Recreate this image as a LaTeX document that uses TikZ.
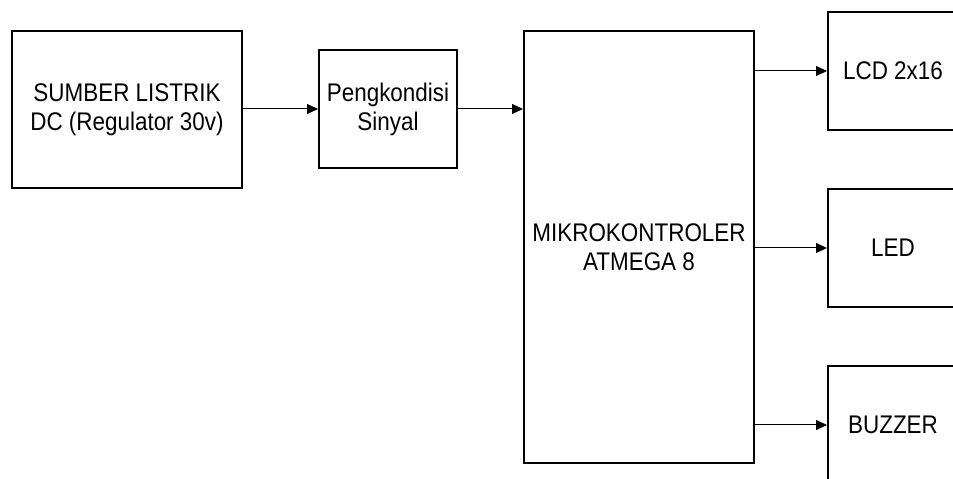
\documentclass[tikz,border=0pt]{standalone}
\usepackage{fontspec}
\newfontfamily\diagfont[FakeStretch=0.88]{Liberation Sans}
\usetikzlibrary{arrows.meta}
\begin{document}
\begin{tikzpicture}[x=1pt,y=1pt,
  blockbox/.style={draw, line width=2pt, inner sep=0pt, align=center,
    font=\diagfont\fontsize{25.5}{29}\selectfont},
  conn/.style={line width=1pt, -{Triangle[length=11pt,width=10pt]}}]
\useasboundingbox (0,0) rectangle (953,479);
\clip (0,0) rectangle (953,479);
\node[blockbox, minimum width=230pt, minimum height=157pt] (src) at (127,369.5) {SUMBER LISTRIK\\DC (Regulator 30v)};
\node[blockbox, minimum width=138pt, minimum height=118pt] (cond) at (388,370) {Pengkondisi\\Sinyal};
\node[blockbox, minimum width=230pt, minimum height=432pt] (mcu) at (639,232) {MIKROKONTROLER\\ATMEGA 8};
\node[blockbox, minimum width=130pt, minimum height=118pt] (lcd) at (893,408) {LCD 2x16};
\node[blockbox, minimum width=130pt, minimum height=118pt] (led) at (893,231) {LED};
\node[blockbox, minimum width=130pt, minimum height=118pt] (buz) at (893,54) {BUZZER};
\draw[conn] (src.east |- cond.west) -- (cond.west);
\draw[conn] (cond.east) -- (mcu.west |- cond.east);
\draw[conn] (mcu.east |- lcd.west) -- (lcd.west);
\draw[conn] (mcu.east |- led.west) -- (led.west);
\draw[conn] (mcu.east |- buz.west) -- (buz.west);
\end{tikzpicture}
\end{document}
